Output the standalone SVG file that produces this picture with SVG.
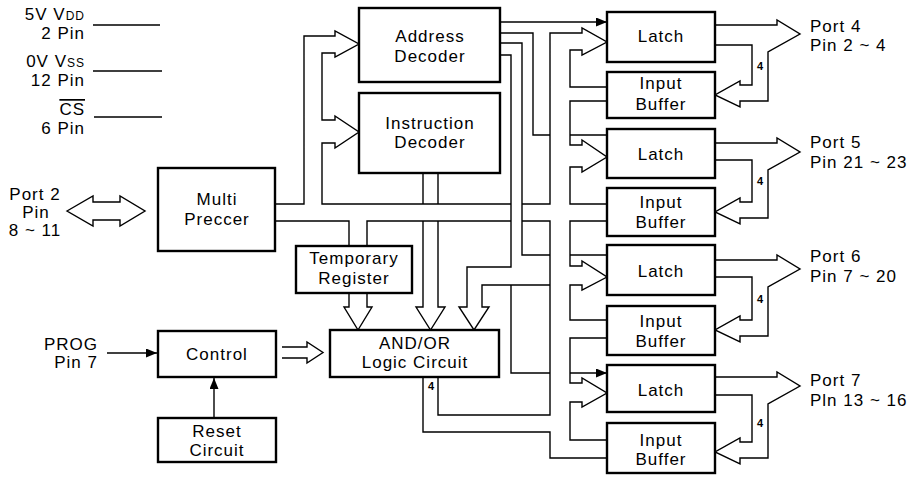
<svg xmlns="http://www.w3.org/2000/svg" width="915" height="479" viewBox="0 0 915 479">
<defs>
<marker id="ah" markerUnits="userSpaceOnUse" markerWidth="11" markerHeight="9" refX="11" refY="4.5" orient="auto">
<path d="M0,0 L11,4.5 L0,9 Z" fill="#000"/>
</marker>
<style>
.box{fill:#fff;stroke:#000;stroke-width:2.4}
.ln{fill:none;stroke:#000;stroke-width:1.4;stroke-linejoin:miter}
.arr{fill:none;stroke:#000;stroke-width:1.4;marker-end:url(#ah)}
text{font-family:"Liberation Sans",Arial,sans-serif;font-size:17px;letter-spacing:1px;fill:#000}
.c{text-anchor:middle}
.e{text-anchor:end}
.s{font-size:12px}
.n{font-size:11px;font-weight:bold;letter-spacing:0;text-anchor:middle}
</style>
</defs>
<rect width="915" height="479" fill="#fff"/>

<g id="connectors">
<!-- power pins -->
<path class="ln" d="M93,25 H160 M93,71 H162 M94,117 H162"/>
<!-- port 2 double arrow -->
<path class="ln" d="M67,211 L93,196 V202 H120 V196 L145,211 L120,226 V220 H93 V226 Z"/>
<!-- PROG, reset -->
<path class="arr" d="M107,353 H157"/>
<path class="arr" d="M214,418 V378"/>
<!-- control to AND/OR -->
<path class="ln" d="M282,347 H307 V342 L323,352.5 L307,363 V358 H282"/>
<!-- multi preccer up bus to decoders and main bus top line -->
<path class="ln" d="M275,204 H304 V36 H335 V31 L359,44 L335,57 V53 H322 V120 H335 V116 L359,132 L335,148 V143 H322 V204 H511"/>
<!-- main bus bottom line -->
<path class="ln" d="M275,221 H349 V246 M367,246 V221 H511"/>
<!-- instruction decoder outputs -->
<path class="ln" d="M423,173 V204 M438,173 V204"/>
<path class="ln" d="M423,221 V307 H416 L430.5,330 L445,307 H438 V221"/>
<!-- temp register to AND/OR -->
<path class="ln" d="M349,293 V307 H344 L358,330 L372,307 H367 V293"/>
<!-- address decoder outputs -->
<path class="arr" d="M500,22 H607"/>
<path class="ln" d="M500,33 H533 V135 H550"/>
<path class="ln" d="M500,43 H522 V255 H550"/>
<path class="ln" d="M500,55 H511 V267 H467 V307 H459 L474,330 L489,307 H482 V285 H550 M511,285 V373 H550"/>
<!-- clocks -->
<path class="arr" d="M570,135 H607 M570,255 H607 M570,373 H607"/>
<!-- vertical bus -->
<path class="ln" d="M522,204 H550 V33 H582 V28 L607,42 L582,55 V50 H570 V87 H607"/>
<path class="ln" d="M522,221 H550 V415 H438 V378"/>
<path class="ln" d="M423,378 V432 H550 V458 H607"/>
<path class="ln" d="M607,101 H570 V145 H582 V140 L607,157 L582,172 V167 H570 V204 H607"/>
<path class="ln" d="M607,221 H570 V266 H582 V261 L607,277 L582,290 V285 H570 V320 H607"/>
<path class="ln" d="M607,338 H570 V383 H582 V378 L607,393 L582,407 V402 H570 V440 H607"/>
<!-- port buses -->
<path class="ln" d="M715,25 H777 V20 L800,34 L768,52 V101 H740 V107 L715,95 L740,81 V85 H752 V45 H715"/>
<path class="ln" d="M715,143 H777 V138 L800,152 L768,170 V218 H740 V224 L715,212 L740,198 V202 H752 V160 H715"/>
<path class="ln" d="M715,260 H777 V255 L800,269 L768,287 V336 H740 V342 L715,330 L740,316 V320 H752 V277 H715"/>
<path class="ln" d="M715,377 H777 V372 L800,386 L768,404 V458 H740 V464 L715,452 L740,438 V442 H752 V395 H715"/>
<text class="n" x="760" y="70">4</text>
<text class="n" x="760" y="185">4</text>
<text class="n" x="760" y="303">4</text>
<text class="n" x="760" y="427">4</text>
<text class="n" x="431" y="390">4</text>
</g>

<g id="pins">
<text class="e" x="85" y="20">5V V<tspan class="s">DD</tspan></text>
<text class="e" x="85" y="39">2 Pin</text>
<text class="e" x="85" y="67">0V V<tspan class="s">SS</tspan></text>
<text class="e" x="85" y="86">12 Pin</text>
<text class="e" x="85" y="115" style="text-decoration:overline">CS</text>
<text class="e" x="85" y="134">6 Pin</text>
</g>

<g id="port2">
<text class="c" x="35" y="200">Port 2</text>
<text class="c" x="36" y="218">Pin</text>
<text class="c" x="35" y="236">8 ~ 11</text>
</g>

<g id="prog">
<text class="e" x="98" y="350">PROG</text>
<text class="e" x="98" y="368">Pin 7</text>
</g>

<g id="multi-preccer">
<rect class="box" x="158" y="168" width="117" height="83"/>
<text class="c" x="217" y="205">Multi</text>
<text class="c" x="217" y="225">Preccer</text>
</g>

<g id="address-decoder">
<rect class="box" x="359" y="8" width="141" height="74"/>
<text class="c" x="430" y="42">Address</text>
<text class="c" x="430" y="62">Decoder</text>
</g>

<g id="instruction-decoder">
<rect class="box" x="359" y="93" width="141" height="80"/>
<text class="c" x="430" y="129">Instruction</text>
<text class="c" x="430" y="148">Decoder</text>
</g>

<g id="temporary-register">
<rect class="box" x="296" y="246" width="116" height="47"/>
<text class="c" x="354" y="264">Temporary</text>
<text class="c" x="354" y="284">Register</text>
</g>

<g id="control">
<rect class="box" x="158" y="331" width="118" height="46"/>
<text class="c" x="217" y="360">Control</text>
</g>

<g id="reset-circuit">
<rect class="box" x="158" y="418" width="118" height="44"/>
<text class="c" x="217" y="437">Reset</text>
<text class="c" x="217" y="456">Circuit</text>
</g>

<g id="and-or">
<rect class="box" x="330" y="330" width="169" height="47"/>
<text class="c" x="415" y="349">AND/OR</text>
<text class="c" x="415" y="368">Logic Circuit</text>
</g>

<g id="latch1">
<rect class="box" x="607" y="12" width="108" height="50"/>
<text class="c" x="661" y="42">Latch</text>
</g>
<g id="buffer1">
<rect class="box" x="607" y="72" width="108" height="46"/>
<text class="c" x="661" y="89">Input</text>
<text class="c" x="661" y="110">Buffer</text>
</g>
<g id="latch2">
<rect class="box" x="607" y="129" width="108" height="49"/>
<text class="c" x="661" y="160">Latch</text>
</g>
<g id="buffer2">
<rect class="box" x="607" y="188" width="108" height="48"/>
<text class="c" x="661" y="208">Input</text>
<text class="c" x="661" y="228">Buffer</text>
</g>
<g id="latch3">
<rect class="box" x="607" y="245" width="108" height="50"/>
<text class="c" x="661" y="277">Latch</text>
</g>
<g id="buffer3">
<rect class="box" x="607" y="306" width="108" height="49"/>
<text class="c" x="661" y="327">Input</text>
<text class="c" x="661" y="347">Buffer</text>
</g>
<g id="latch4">
<rect class="box" x="607" y="365" width="108" height="47"/>
<text class="c" x="661" y="396">Latch</text>
</g>
<g id="buffer4">
<rect class="box" x="607" y="423" width="108" height="50"/>
<text class="c" x="661" y="446">Input</text>
<text class="c" x="661" y="465">Buffer</text>
</g>

<g id="port-labels">
<text x="810" y="32">Port 4</text>
<text x="810" y="51">Pin 2 ~ 4</text>
<text x="810" y="148">Port 5</text>
<text x="810" y="168">Pin 21 ~ 23</text>
<text x="810" y="262">Port 6</text>
<text x="810" y="282">Pin 7 ~ 20</text>
<text x="810" y="386">Port 7</text>
<text x="810" y="406">Pln 13 ~ 16</text>
</g>
</svg>
